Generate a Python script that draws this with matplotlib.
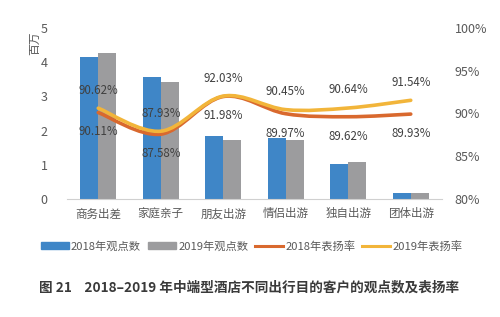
import numpy as np
import matplotlib
matplotlib.use("Agg")
import matplotlib.pyplot as plt
from matplotlib.path import Path
from matplotlib.patches import PathPatch
from matplotlib.lines import Line2D
from matplotlib.patches import Patch

plt.rcParams['font.family'] = ['Noto Sans CJK SC', 'DejaVu Sans']

categories = ["商务出差", "家庭亲子", "朋友出游", "情侣出游", "独自出游", "团体出游"]
views_2018 = [4.15, 3.57, 1.84, 1.78, 1.02, 0.17]
views_2019 = [4.28, 3.42, 1.73, 1.73, 1.08, 0.17]
rate_2018 = [90.11, 87.58, 91.98, 89.97, 89.62, 89.93]
rate_2019 = [90.62, 87.93, 92.03, 90.45, 90.64, 91.54]

BLUE = "#3F86C7"
GRAY = "#9C9C9E"
ORANGE = "#D9692E"
YELLOW = "#F2B53A"
TXT = "#595959"


def smooth_path(xs, ys):
    """Catmull-Rom style Bezier path through the points (Excel smoothed line)."""
    xs, ys = np.asarray(xs, float), np.asarray(ys, float)
    n = len(xs)
    verts = [(xs[0], ys[0])]
    codes = [Path.MOVETO]
    for i in range(n - 1):
        p0 = i - 1 if i > 0 else i
        p3 = i + 2 if i + 2 < n else i + 1
        c1 = (xs[i] + (xs[i + 1] - xs[p0]) / 6, ys[i] + (ys[i + 1] - ys[p0]) / 6)
        c2 = (xs[i + 1] - (xs[p3] - xs[i]) / 6, ys[i + 1] - (ys[p3] - ys[i]) / 6)
        verts += [c1, c2, (xs[i + 1], ys[i + 1])]
        codes += [Path.CURVE4] * 3
    return Path(verts, codes)


fig = plt.figure(figsize=(5.0, 3.17), dpi=100)
ax = fig.add_axes([0.134, 0.372, 0.750, 0.540])
x = np.arange(len(categories))
w = 0.285
ax.bar(x - w / 2, views_2018, w, color=BLUE)
ax.bar(x + w / 2, views_2019, w, color=GRAY)
ax.set_xlim(-0.5, len(categories) - 0.5)
ax.set_ylim(0, 5)
ax.set_yticks(range(6))
ax.set_xticks(x)
ax.set_xticklabels(categories)
ax.tick_params(length=0, labelsize=8.3, colors=TXT, pad=6)
ax.tick_params(axis="y", labelsize=9, pad=14)
for s in ["top", "right", "left"]:
    ax.spines[s].set_visible(False)
ax.spines["bottom"].set_color("#D0D0D0")
ax.text(-0.085, 0.91, "百万", transform=ax.transAxes, rotation=90,
        fontsize=8.5, color=TXT, ha="center", va="center")

ax2 = ax.twinx()
ax2.set_ylim(80, 100)
ax2.set_yticks([80, 85, 90, 95, 100])
ax2.set_yticklabels([f"{v}%" for v in [80, 85, 90, 95, 100]])
ax2.tick_params(length=0, labelsize=9, colors=TXT, pad=9)
for s in ["top", "right", "left", "bottom"]:
    ax2.spines[s].set_visible(False)

ax2.add_patch(PathPatch(smooth_path(x, rate_2018), fill=False, ec=ORANGE, lw=2.6,
                        capstyle="round", zorder=3))
ax2.add_patch(PathPatch(smooth_path(x, rate_2019), fill=False, ec=YELLOW, lw=2.6,
                        capstyle="round", zorder=4))

for xi, r18, r19 in zip(x, rate_2018, rate_2019):
    ax2.annotate(f"{r19:.2f}%", (xi, r19), xytext=(0, 13), textcoords="offset points",
                 ha="center", va="center", fontsize=8.3, color="#404040")
    ax2.annotate(f"{r18:.2f}%", (xi, r18), xytext=(0, -14), textcoords="offset points",
                 ha="center", va="center", fontsize=8.3, color="#404040")

handles = [Patch(color=BLUE), Patch(color=GRAY),
           Line2D([], [], color=ORANGE, lw=2.2), Line2D([], [], color=YELLOW, lw=2.2)]
labels = ["2018年观点数", "2019年观点数", "2018年表扬率", "2019年表扬率"]
fig.legend(handles, labels, loc="center", bbox_to_anchor=(0.503, 0.223), ncol=4,
           frameon=False, fontsize=8.1, handlelength=2.5, handleheight=0.55,
           handletextpad=0.2, columnspacing=0.6, labelcolor=TXT)

fig.text(0.078, 0.092, "图 21    2018–2019 年中端型酒店不同出行目的客户的观点数及表扬率",
         fontsize=9.8, fontweight="bold", color="#3A3A3A", ha="left", va="center")

fig.savefig("out.png", dpi=100)
